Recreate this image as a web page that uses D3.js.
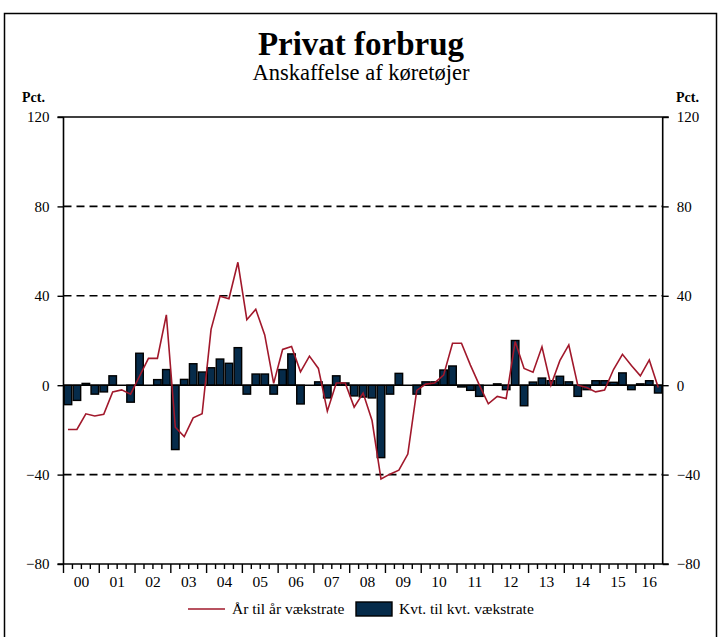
<!DOCTYPE html>
<html><head><meta charset="utf-8">
<script src="https://cdn.jsdelivr.net/npm/d3@7"></script>
<style>body{margin:0;background:#fff}svg{display:block}text{font-family:"Liberation Serif","Times New Roman",serif;fill:#000}</style>
</head><body><svg id="c" width="718" height="637"></svg>
<script>
const yearLabels = ["00","01","02","03","04","05","06","07","08","09","10","11","12","13","14","15","16"];
const quartersInYear = [4,4,4,4,4,4,4,4,4,4,4,4,4,4,4,4,3];
const yTicks = [-80,-40,0,40,80,120];
const gridValues = [-40,40,80];
// Kvt. til kvt. vækstrate (bars)
const qoq = [-8.7,-6.8,0.8,-4,-3,4.2,0,-7.6,14.3,0,2.5,7,-28.8,2.6,9.6,5.9,7.8,11.7,9.8,16.8,-4,5,5,-4,7,14,-8.4,0,1.5,-5.7,4.2,1,-4.8,-5.3,-5.7,-32.4,-4,5.3,0,-4,1.5,1.5,6.8,8.6,-0.8,-2.3,-5,0,0.6,-2,20,-9.2,1.4,3.2,2,4,1.5,-5,-2,2,2,1.3,5.5,-2,0.6,2,-3.5];
// År til år vækstrate (line)
const yoy = [-19.8,-19.8,-12.8,-13.8,-13,-3,-2.1,-4,4,12,12,31.5,-18.8,-23,-14.6,-12.8,25,39.8,38.7,55,29.3,34,22.5,0.8,16,17.3,6,13,7.5,-11.6,1,1,-9.8,-3.5,-15.8,-42,-39.8,-38,-30.8,-2.3,0.5,1,4.5,18.8,18.8,9,0,-8.3,-5,-6,19.5,7.5,5.8,17.2,0,11,18,0,-1,-3,-2.2,7,13.8,8.8,4.2,11.3,-1];
const title = "Privat forbrug", subtitle = "Anskaffelse af køretøjer";
const legendLine = "År til år vækstrate", legendBar = "Kvt. til kvt. vækstrate";

const quarters = [];
yearLabels.forEach((y,i)=>{for(let q=1;q<=quartersInYear[i];q++)quarters.push(y+"K"+q);});

const svg = d3.select("#c");
const L=63.5, R=662.7, T=117, B=564;
const x = d3.scaleBand().domain(quarters).range([L,R]).paddingInner(0.16).paddingOuter(0.08);
const step = x.step();
const y = d3.scaleLinear().domain([-80,120]).range([B,T]);

// frame
svg.append("path").attr("d","M4.5,640V13.5H716.5V640").attr("fill","none").attr("stroke","#000").attr("stroke-width",1.5);

svg.append("text").attr("x",361).attr("y",55).attr("text-anchor","middle").attr("font-size",33).attr("font-weight","bold").text(title);
svg.append("text").attr("x",361).attr("y",80).attr("text-anchor","middle").attr("font-size",22.5).text(subtitle);
svg.append("text").attr("x",22).attr("y",102).attr("font-size",14).attr("font-weight","bold").text("Pct.");
svg.append("text").attr("x",676).attr("y",102).attr("font-size",14).attr("font-weight","bold").text("Pct.");

// grid
svg.append("g").selectAll("line").data(gridValues).join("line")
  .attr("x1",L).attr("x2",R).attr("y1",d=>y(d)).attr("y2",d=>y(d))
  .attr("stroke","#000").attr("stroke-width",1.6).attr("stroke-dasharray","8,5");

// bars
svg.append("g").selectAll("rect").data(qoq).join("rect")
  .attr("x",(d,i)=>x(quarters[i])).attr("width",x.bandwidth())
  .attr("y",d=>y(Math.max(0,d))).attr("height",d=>Math.abs(y(d)-y(0)))
  .attr("fill","#062b4a").attr("stroke","#000").attr("stroke-width",1.4);

// zero line
svg.append("line").attr("x1",L).attr("x2",R).attr("y1",y(0)).attr("y2",y(0)).attr("stroke","#000").attr("stroke-width",1.4);

// line
svg.append("path").datum(yoy)
  .attr("d",d3.line().x((d,i)=>x(quarters[i])+x.bandwidth()/2).y(d=>y(d)))
  .attr("fill","none").attr("stroke","#a1182b").attr("stroke-width",1.6);

// axes
const yl = d3.axisLeft(y).tickValues(yTicks).tickSize(6).tickPadding(8);
const yr = d3.axisRight(y).tickValues(yTicks).tickSize(6).tickPadding(8);
const gl = svg.append("g").attr("transform",`translate(${L},0)`).call(yl);
const gr = svg.append("g").attr("transform",`translate(${R},0)`).call(yr);
[gl,gr].forEach(g=>{g.select(".domain").attr("stroke","#000").attr("stroke-width",1.6).attr("d",`M0,${T}V${B}`);
  g.selectAll(".tick line").attr("stroke","#000").attr("stroke-width",1.4);
  g.selectAll("text").attr("font-size",15).attr("font-family","Liberation Serif");});
// top border
svg.append("line").attr("x1",L-6).attr("x2",R+6).attr("y1",T).attr("y2",T).attr("stroke","#000").attr("stroke-width",1.6);
svg.append("line").attr("x1",L-6).attr("x2",R+6).attr("y1",B).attr("y2",B).attr("stroke","#000").attr("stroke-width",1.6);

// x ticks
let idx=0; const gx=svg.append("g");
yearLabels.forEach((lab,i)=>{
  const n=quartersInYear[i];
  const s0 = x(quarters[idx]) - step*x.paddingInner()/2;
  for(let q=0;q<n;q++){
    const xx = s0 + q*step;
    gx.append("line").attr("x1",xx).attr("x2",xx).attr("y1",B).attr("y2",B+(q===0?9:5)).attr("stroke","#000").attr("stroke-width",1.4);
  }
  const c = x(quarters[idx]) + (n-1)*step/2 + x.bandwidth()/2;
  gx.append("text").attr("x",c).attr("y",587).attr("text-anchor","middle").attr("font-size",15.5).text(lab);
  idx+=n;
});

// legend
const lg = svg.append("g");
lg.append("line").attr("x1",188).attr("x2",225).attr("y1",609).attr("y2",609).attr("stroke","#a1182b").attr("stroke-width",1.6);
lg.append("text").attr("x",232).attr("y",614).attr("font-size",15.5).text(legendLine);
lg.append("rect").attr("x",356).attr("y",602).attr("width",36).attr("height",14).attr("fill","#062b4a").attr("stroke","#000").attr("stroke-width",1.4);
lg.append("text").attr("x",399).attr("y",614).attr("font-size",15.5).text(legendBar);
</script></body></html>
